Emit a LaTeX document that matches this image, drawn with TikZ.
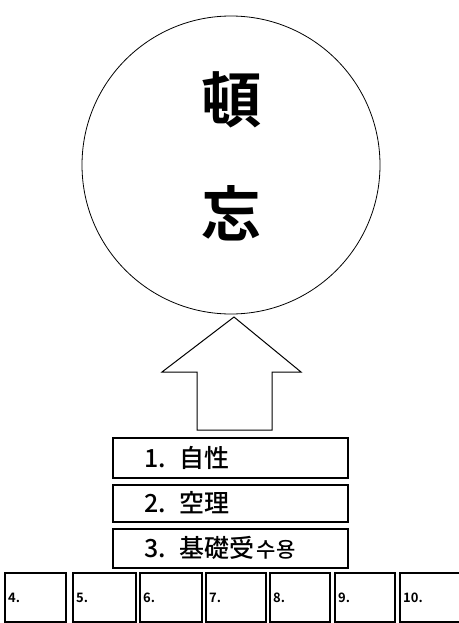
\documentclass[tikz,border=0pt]{standalone}
\usepackage{fontspec}
\newfontfamily\cjk{Noto Sans CJK JP Bold}
\newfontfamily\cjkm{Noto Sans CJK JP Medium}
\begin{document}
\begin{tikzpicture}[x=1pt,y=-1pt,
  box/.style={draw=black,line width=1.3pt},
  small/.style={draw=black,line width=1.2pt},
  lab/.style={anchor=west,font=\cjkm\fontsize{25}{27}\selectfont,inner sep=0pt},
  nlab/.style={anchor=west,font=\cjk\fontsize{13}{14}\selectfont,inner sep=0pt}]
\useasboundingbox (0,0) rectangle (458,623);
\node[circle,draw=black,line width=0.8pt,minimum size=298pt,inner sep=0pt] (circ) at (231,165) {};
\node[font=\cjk\fontsize{60}{62}\selectfont,inner sep=0pt] (t1) at (231,100) {頓};
\node[font=\cjk\fontsize{60}{62}\selectfont,inner sep=0pt] (t2) at (231,213) {忘};
\draw[line width=1pt,line join=miter] (234,317) -- (301,372) -- (272,372) -- (272,430) -- (197,430) -- (197,372) -- (162,372) -- cycle;
\node[box,minimum width=235pt,minimum height=40pt,inner sep=0pt] (b1) at (230.5,458) {};
\node[box,minimum width=235pt,minimum height=37pt,inner sep=0pt] (b2) at (230.5,503.5) {};
\node[box,minimum width=235pt,minimum height=39pt,inner sep=0pt] (b3) at (230.5,548.5) {};
\node[lab] (l1) at (144,458) {1.\hspace{14pt}自性};
\node[lab] (l2) at (144,503) {2.\hspace{14pt}空理};
\node[lab] (l3) at (144,548) {3.\hspace{14pt}基礎受\hspace{2pt}{\fontsize{21}{22}\selectfont 수용}};
\foreach \xa/\xb/\t in {5/66/4,73/136/5,140/202/6,206/266/7,270/330/8,335/395/9,400/462/10}{
  \node[small,minimum width={(\xb-\xa)*1pt},minimum height=49pt,inner sep=0pt] (n\t) at ({(\xa+\xb)/2},597.5) {};
  \node[nlab] (m\t) at ({\xa+3},598) {\t.};
}
\end{tikzpicture}
\end{document}
